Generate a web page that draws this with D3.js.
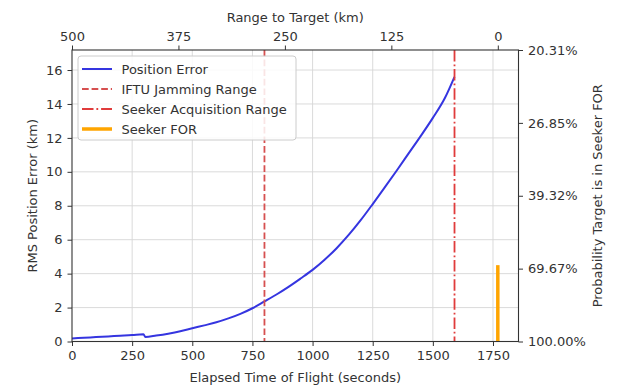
<!DOCTYPE html>
<html><head><meta charset="utf-8">
<script src="https://cdn.jsdelivr.net/npm/d3@7"></script>
<style>body{margin:0;background:#fff;} text{font-family:"DejaVu Sans",sans-serif;}</style>
</head><body>
<svg id="chart" width="640" height="391"></svg>
<script>
// ---- data ----
const timeS = [0,50,100,150,200,250,297,305,350,400,450,500,550,600,650,700,750,800,850,900,950,1000,1050,1100,1150,1200,1250,1300,1350,1400,1450,1500,1550,1590];
const posErrKm = [0.18,0.22,0.26,0.30,0.34,0.38,0.43,0.27,0.35,0.46,0.60,0.78,0.95,1.13,1.36,1.63,1.96,2.36,2.77,3.22,3.71,4.22,4.82,5.50,6.28,7.15,8.10,9.08,10.08,11.10,12.12,13.18,14.35,15.60];
const jammingTime = 800;
const seekerAcqTime = 1590;
const impactTime = 1770;
const startRangeKm = 500;
const seekerFORTime = 1770;
const seekerFORHeight = 4.5;
const xTicks = [0,250,500,750,1000,1250,1500,1750];
const yTicks = [0,2,4,6,8,10,12,14,16];
const topTicks = [500,375,250,125,0];
const rightTickLabels = ["100.00%","69.67%","39.32%","26.85%","20.31%"];
const legendLabels = ["Position Error","IFTU Jamming Range","Seeker Acquisition Range","Seeker FOR"];

// ---- layout ----
const L=72, R=518.5, T=50, B=341.5;
const xMax = 1856, yMax = 17.18;
const svg = d3.select("#chart");
const x = d3.scaleLinear().domain([0,xMax]).range([L,R]);
const y = d3.scaleLinear().domain([0,yMax]).range([B,T]);
const xTop = d3.scaleLinear().domain([startRangeKm, startRangeKm*(1-xMax/impactTime)]).range([L,R]);
const yRight = d3.scaleLinear().domain([0,4]).range([B,T]);

const grid = svg.append("g").attr("stroke","#d6d6d6").attr("stroke-width",0.9);
xTicks.filter(d=>d>0).forEach(d=>grid.append("line").attr("x1",x(d)).attr("x2",x(d)).attr("y1",T).attr("y2",B));
yTicks.filter(d=>d>0).forEach(d=>grid.append("line").attr("y1",y(d)).attr("y2",y(d)).attr("x1",L).attr("x2",R));

// lines
const pts = timeS.map((t,i)=>[t,posErrKm[i]]);
const line = d3.line().x(d=>x(d[0])).y(d=>y(d[1])).curve(d3.curveMonotoneX);
svg.append("path").datum(pts).attr("d",line)
  .attr("fill","none").attr("stroke","#3535e0").attr("stroke-width",2);
svg.append("line").attr("x1",x(jammingTime)).attr("x2",x(jammingTime)).attr("y1",T).attr("y2",B)
  .attr("stroke","#d65050").attr("stroke-width",1.8).attr("stroke-dasharray","6.7,2.9");
svg.append("line").attr("x1",x(seekerAcqTime)).attr("x2",x(seekerAcqTime)).attr("y1",T).attr("y2",B)
  .attr("stroke","#e03c3c").attr("stroke-width",1.8).attr("stroke-dasharray","11.5,2.9,1.8,2.9");
svg.append("line").attr("x1",x(seekerFORTime)).attr("x2",x(seekerFORTime)).attr("y1",y(0)).attr("y2",y(seekerFORHeight))
  .attr("stroke","#ffa500").attr("stroke-width",3.5);

// axes
function style(g){
  g.selectAll(".domain").remove();
  g.selectAll(".tick line").attr("stroke","#333").attr("stroke-width",1);
  g.selectAll(".tick text").attr("fill","#333").style("font-size","13px").style("font-family","DejaVu Sans");
}
svg.append("g").attr("transform",`translate(0,${B})`).call(d3.axisBottom(x).tickValues(xTicks).tickSize(4.5).tickPadding(4.5).tickFormat(d3.format("d"))).call(style);
svg.append("g").attr("transform",`translate(${L},0)`).call(d3.axisLeft(y).tickValues(yTicks).tickSize(4.5).tickPadding(5).tickFormat(d3.format("d"))).call(style);
svg.append("g").attr("transform",`translate(0,${T})`).call(d3.axisTop(xTop).tickValues(topTicks).tickSize(4.5).tickPadding(5).tickFormat(d3.format("d"))).call(style);
svg.append("g").attr("transform",`translate(${R},0)`).call(d3.axisRight(yRight).tickValues([0,1,2,3,4]).tickSize(4.5).tickPadding(5).tickFormat(i=>rightTickLabels[i])).call(style);

svg.append("rect").attr("x",L).attr("y",T).attr("width",R-L).attr("height",B-T)
  .attr("fill","none").attr("stroke","#333").attr("stroke-width",1.1);

// titles
const tt = (s,xx,yy,rot)=>svg.append("text").text(s).attr("text-anchor","middle").attr("fill","#333")
  .style("font-size","13px").attr("transform",`translate(${xx},${yy})`+(rot?` rotate(${rot})`:""));
tt("Elapsed Time of Flight (seconds)", (L+R)/2, 382);
tt("Range to Target (km)", (L+R)/2, 22);
tt("RMS Position Error (km)", 37, (T+B)/2, -90);
tt("Probability Target is in Seeker FOR", 601.5, (T+B)/2, -90);

// legend
const lg = svg.append("g");
lg.append("rect").attr("x",78).attr("y",56).attr("width",218).attr("height",84).attr("rx",3)
  .attr("fill","#fff").attr("fill-opacity",0.85).attr("stroke","#cccccc").attr("stroke-width",1);
const handles = [
  {c:"#3535e0",w:2,d:null},
  {c:"#d65050",w:1.8,d:"6.7,2.9"},
  {c:"#e03c3c",w:1.8,d:"11.5,2.9,1.8,2.9"},
  {c:"#ffa500",w:3.5,d:null}
];
legendLabels.forEach((lab,i)=>{
  const yy = 69 + i*20;
  const h = handles[i];
  const l = lg.append("line").attr("x1",82).attr("x2",112).attr("y1",yy).attr("y2",yy)
    .attr("stroke",h.c).attr("stroke-width",h.w);
  if(h.d) l.attr("stroke-dasharray",h.d);
  lg.append("text").text(lab).attr("x",121.5).attr("y",yy).attr("dy","0.36em")
    .attr("fill","#333").style("font-size","13px");
});
</script>
</body></html>
